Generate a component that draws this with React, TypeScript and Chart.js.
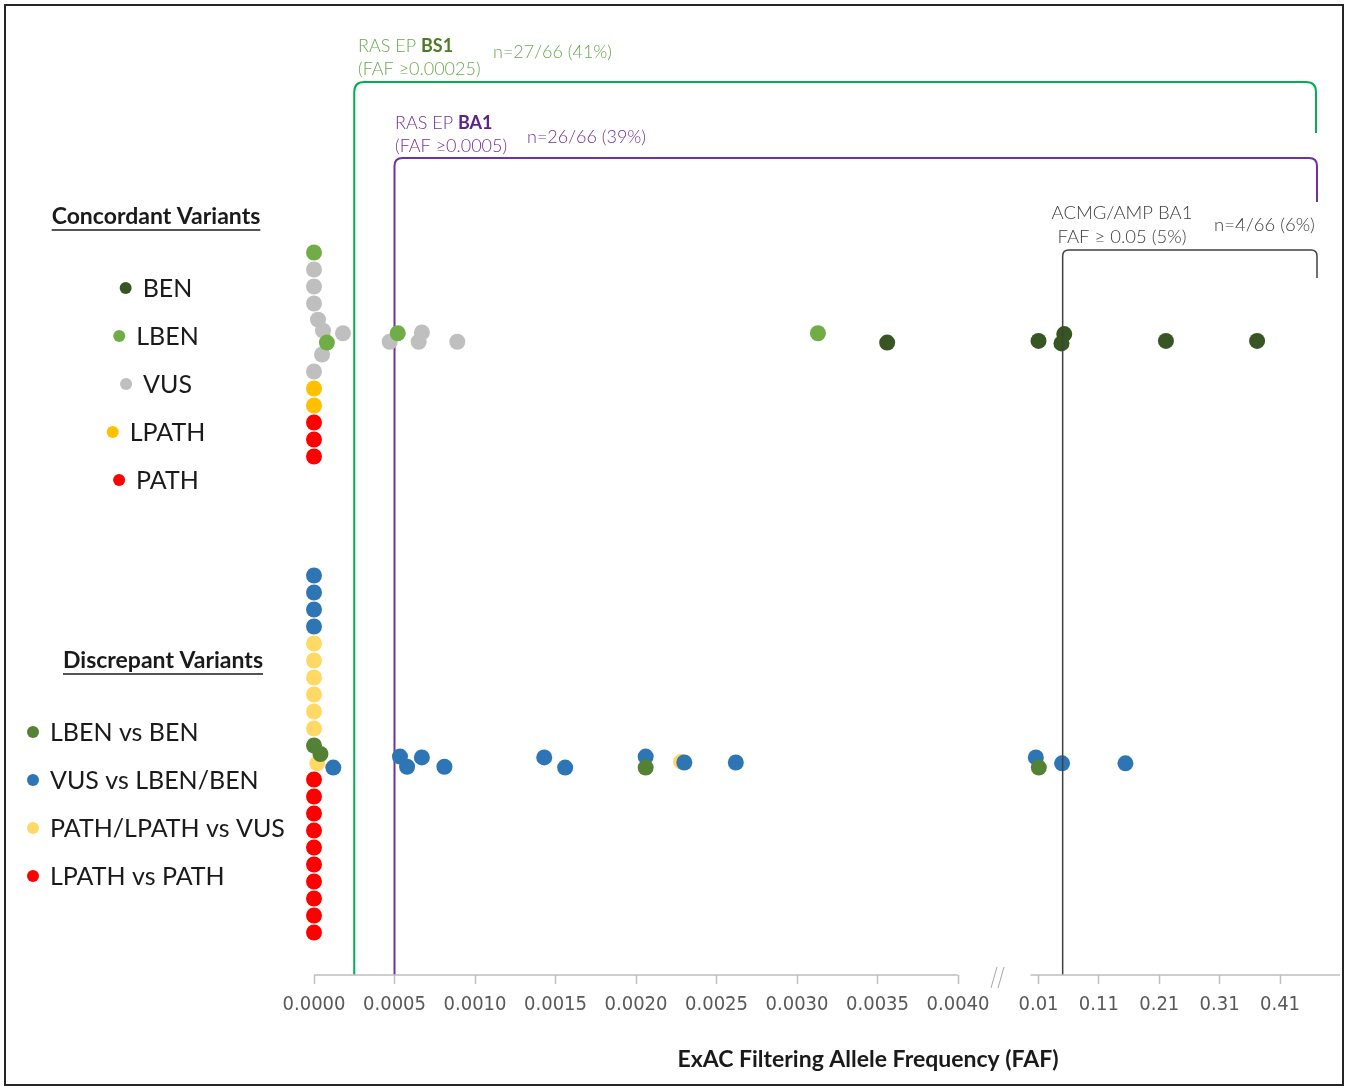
import React, { useEffect, useRef } from "react";
import { Chart, registerables } from "chart.js";

Chart.register(...registerables);

// ---------- tick labels (broken axis) ----------
const TICK_VALUES = [0, 0.0005, 0.001, 0.0015, 0.002, 0.0025, 0.003, 0.0035, 0.004, 0.01, 0.11, 0.21, 0.31, 0.41];
const TICK_LABELS = ["0.0000", "0.0005", "0.0010", "0.0015", "0.0020", "0.0025", "0.0030", "0.0035", "0.0040", "0.01", "0.11", "0.21", "0.31", "0.41"];

// ---------- thresholds ----------
const BS1_FAF = 0.00025;
const BA1_FAF = 0.0005;
const ACMG_FAF = 0.05;

// ---------- data: FAF values and swarm offsets (dot steps, + = below lane centre) ----------
// Concordant variants
const CONC_BEN_FAF = [0.00356, 0.01, 0.0526, 0.048, 0.221, 0.372];
const CONC_BEN_OFF = [0.3, 0.2, -0.2, 0.35, 0.2, 0.2];
const CONC_LBEN_FAF = [0, 0.00008, 0.00052, 0.00313];
const CONC_LBEN_OFF = [-5, 0.3, -0.25, -0.25];
const CONC_VUS_FAF = [0, 0, 0, 0.000025, 0.000056, 0.00018, 0.00005, 0, 0.00047, 0.00067, 0.00065, 0.00089];
const CONC_VUS_OFF = [-4, -3, -2, -1.05, -0.4, -0.25, 1, 2, 0.25, -0.3, 0.25, 0.25];
const CONC_LPATH_FAF = [0, 0];
const CONC_LPATH_OFF = [3, 4];
const CONC_PATH_FAF = [0, 0, 0];
const CONC_PATH_OFF = [5, 6, 7];

// Discrepant variants
const DISC_LBEN_BEN_FAF = [0, 0.00004, 0.00206, 0.0105];
const DISC_LBEN_BEN_OFF = [-1, -0.5, 0.3, 0.3];
const DISC_VUS_FAF = [0, 0, 0, 0, 0.00012, 0.000534, 0.000578, 0.00067, 0.00081, 0.00143, 0.00156, 0.00206, 0.0023, 0.00262, 0.0098, 0.049, 0.154];
const DISC_VUS_OFF = [-11, -10, -9, -8, 0.3, -0.35, 0.25, -0.3, 0.25, -0.3, 0.3, -0.35, 0, 0, -0.3, 0.05, 0.05];
const DISC_PLP_VUS_FAF = [0, 0, 0, 0, 0, 0, 0.00002, 0.00228];
const DISC_PLP_VUS_OFF = [-7, -6, -5, -4, -3, -2, 0.05, -0.05];
const DISC_LP_P_FAF = [0, 0, 0, 0, 0, 0, 0, 0, 0, 0];
const DISC_LP_P_OFF = [1, 2, 3, 4, 5, 6, 7, 8, 9, 10];

const LANE_CONC = 37.5;
const LANE_DISC = 12.5;

// ---------- colours ----------
const C_BEN = "#375623";
const C_LBEN = "#70AD47";
const C_VUS = "#BFBFBF";
const C_LPATH = "#FFC000";
const C_PATH = "#FF0000";
const C_D_LBEN = "#548235";
const C_D_VUS = "#2E75B6";
const C_D_PLP = "#FFD966";
const C_D_LPP = "#FF0000";

// broken axis transform: FAF -> axis position
function toPos(v: number): number {
  if (v <= 0.004) return v / 0.0005;
  if (v < 0.01) return 8 + (v - 0.004) / 0.006;
  return 9 + ((v - 0.01) / 0.1) * 0.75;
}

function pts(fafs: number[], offs: number[], lane: number) {
  return fafs.map((f, i) => ({ x: toPos(f), y: lane - offs[i] }));
}

const FONT_UI = "Lato, 'Open Sans', sans-serif";

const overlayPlugin = {
  id: "overlay",
  beforeDatasetsDraw(chart: any) {
    const ctx = chart.ctx;
    const xs = chart.scales.x;
    const bottom = chart.chartArea.bottom;
    const bracket = (xL: number, yTop: number, xR: number, yEnd: number, r: number, color: string, w: number) => {
      ctx.save();
      ctx.strokeStyle = color;
      ctx.lineWidth = w;
      ctx.beginPath();
      ctx.moveTo(xL, bottom);
      ctx.lineTo(xL, yTop + r);
      ctx.quadraticCurveTo(xL, yTop, xL + r, yTop);
      ctx.lineTo(xR - r, yTop);
      ctx.quadraticCurveTo(xR, yTop, xR, yTop + r);
      ctx.lineTo(xR, yEnd);
      ctx.stroke();
      ctx.restore();
    };
    bracket(xs.getPixelForValue(toPos(BS1_FAF)), 82, 1316, 133, 10, "#00B050", 2);
    bracket(xs.getPixelForValue(toPos(BA1_FAF)), 158, 1317, 202, 8, "#7030A0", 2);
  },
  afterDatasetsDraw(chart: any) {
    const ctx = chart.ctx;
    const xs = chart.scales.x;
    const bottom = chart.chartArea.bottom;
    const right = chart.chartArea.right;
    // ACMG bracket on top of dots
    const xA = xs.getPixelForValue(toPos(ACMG_FAF));
    ctx.save();
    ctx.strokeStyle = "#404040";
    ctx.lineWidth = 1.5;
    ctx.beginPath();
    const r = 6, yTop = 250, xR = 1317;
    ctx.moveTo(xA, bottom);
    ctx.lineTo(xA, yTop + r);
    ctx.quadraticCurveTo(xA, yTop, xA + r, yTop);
    ctx.lineTo(xR - r, yTop);
    ctx.quadraticCurveTo(xR, yTop, xR, yTop + r);
    ctx.lineTo(xR, 278);
    ctx.stroke();
    ctx.restore();

    // axis line with break
    ctx.save();
    ctx.strokeStyle = "#BFBFBF";
    ctx.lineWidth = 1.5;
    ctx.beginPath();
    ctx.moveTo(xs.getPixelForValue(0), bottom);
    ctx.lineTo(xs.getPixelForValue(toPos(0.004)), bottom);
    ctx.moveTo(xs.getPixelForValue(toPos(0.01)) - 8, bottom);
    ctx.lineTo(right, bottom);
    ctx.stroke();
    ctx.strokeStyle = "#A6A6A6";
    ctx.lineWidth = 1;
    ctx.beginPath();
    ctx.moveTo(991, bottom + 13);
    ctx.lineTo(997, bottom - 8);
    ctx.moveTo(998, bottom + 13);
    ctx.lineTo(1004, bottom - 8);
    ctx.stroke();
    ctx.restore();
  },
  afterDraw(chart: any) {
    const ctx = chart.ctx;
    ctx.save();
    ctx.textBaseline = "middle";

    // frame
    ctx.strokeStyle = "#262626";
    ctx.lineWidth = 2;
    ctx.strokeRect(5, 5, 1338, 1080);

    const annFont = `300 18px ${FONT_UI}`;
    // annotation texts
    const mixed = (x: number, y: number, a: string, b: string, colA: string, colB: string) => {
      ctx.textAlign = "left";
      ctx.font = annFont;
      ctx.fillStyle = colA;
      ctx.fillText(a, x, y);
      const w = ctx.measureText(a).width;
      ctx.font = `bold 18px ${FONT_UI}`;
      ctx.fillStyle = colB;
      ctx.fillText(b, x + w, y);
    };
    const txt = (s: string, x: number, y: number, col: string, align: CanvasTextAlign = "left", font = annFont) => {
      ctx.textAlign = align;
      ctx.font = font;
      ctx.fillStyle = col;
      ctx.fillText(s, x, y);
    };
    mixed(358, 46, "RAS EP ", "BS1", "#6AA84F", "#4E7A28");
    txt("(FAF \u22650.00025)", 358, 69, "#6AA84F");
    txt("n=27/66 (41%)", 493, 52, "#6AA84F");
    mixed(395, 123, "RAS EP ", "BA1", "#7030A0", "#5B2386");
    txt("(FAF \u22650.0005)", 395, 146, "#7030A0");
    txt("n=26/66 (39%)", 527, 137, "#7030A0");
    txt("ACMG/AMP BA1", 1122, 213, "#404040", "center", `300 18.5px ${FONT_UI}`);
    txt("FAF \u2265 0.05 (5%)", 1122, 237, "#404040", "center", `300 18.5px ${FONT_UI}`);
    txt("n=4/66 (6%)", 1214, 225, "#404040", "left", `300 18.5px ${FONT_UI}`);

    // axis title
    txt("ExAC Filtering Allele Frequency (FAF)", 868, 1060, "#1A1A1A", "center", `bold 23px ${FONT_UI}`);

    // legend headers
    const header = (s: string, cx: number, y: number) => {
      ctx.font = `bold 23px ${FONT_UI}`;
      ctx.textAlign = "center";
      ctx.fillStyle = "#1A1A1A";
      ctx.fillText(s, cx, y);
      const w = ctx.measureText(s).width;
      ctx.strokeStyle = "#1A1A1A";
      ctx.lineWidth = 1.5;
      ctx.beginPath();
      ctx.moveTo(cx - w / 2, y + 13);
      ctx.lineTo(cx + w / 2, y + 13);
      ctx.stroke();
    };
    header("Concordant Variants", 156, 217);
    header("Discrepant Variants", 163, 661);

    const itemFont = `25px ${FONT_UI}`;
    const concItems: [string, string, number][] = [
      ["BEN", C_BEN, 289],
      ["LBEN", C_LBEN, 337],
      ["VUS", C_VUS, 385],
      ["LPATH", C_LPATH, 433],
      ["PATH", C_PATH, 481],
    ];
    concItems.forEach(([label, col, y]) => {
      ctx.font = itemFont;
      const tw = ctx.measureText(label).width;
      const total = 12 + 11 + tw;
      const left = 156 - total / 2;
      ctx.fillStyle = col;
      ctx.beginPath();
      ctx.arc(left + 6, y - 1, 6, 0, Math.PI * 2);
      ctx.fill();
      ctx.fillStyle = "#1A1A1A";
      ctx.textAlign = "left";
      ctx.fillText(label, left + 23, y);
    });
    const discItems: [string, string, number][] = [
      ["LBEN vs BEN", C_D_LBEN, 733],
      ["VUS vs LBEN/BEN", C_D_VUS, 781],
      ["PATH/LPATH vs VUS", C_D_PLP, 829],
      ["LPATH vs PATH", C_D_LPP, 877],
    ];
    discItems.forEach(([label, col, y]) => {
      ctx.fillStyle = col;
      ctx.beginPath();
      ctx.arc(33, y - 1, 6, 0, Math.PI * 2);
      ctx.fill();
      ctx.font = itemFont;
      ctx.fillStyle = "#1A1A1A";
      ctx.textAlign = "left";
      ctx.fillText(label, 50, y);
    });
    ctx.restore();
  },
};

export default function App() {
  const ref = useRef<HTMLCanvasElement>(null);
  useEffect(() => {
    if (!ref.current) return;
    const ds = (label: string, data: any[], color: string) => ({
      label,
      data,
      backgroundColor: color,
      borderWidth: 0,
      pointRadius: 8,
      pointHoverRadius: 8,
      clip: false as any,
    });
    const chart = new Chart(ref.current, {
      type: "scatter",
      data: {
        datasets: [
          ds("BEN", pts(CONC_BEN_FAF, CONC_BEN_OFF, LANE_CONC), C_BEN),
          ds("LBEN", pts(CONC_LBEN_FAF, CONC_LBEN_OFF, LANE_CONC), C_LBEN),
          ds("VUS", pts(CONC_VUS_FAF, CONC_VUS_OFF, LANE_CONC), C_VUS),
          ds("LPATH", pts(CONC_LPATH_FAF, CONC_LPATH_OFF, LANE_CONC), C_LPATH),
          ds("PATH", pts(CONC_PATH_FAF, CONC_PATH_OFF, LANE_CONC), C_PATH),
          ds("LBEN vs BEN", pts(DISC_LBEN_BEN_FAF, DISC_LBEN_BEN_OFF, LANE_DISC), C_D_LBEN),
          ds("VUS vs LBEN/BEN", pts(DISC_VUS_FAF, DISC_VUS_OFF, LANE_DISC), C_D_VUS),
          ds("PATH/LPATH vs VUS", pts(DISC_PLP_VUS_FAF, DISC_PLP_VUS_OFF, LANE_DISC), C_D_PLP),
          ds("LPATH vs PATH", pts(DISC_LP_P_FAF, DISC_LP_P_OFF, LANE_DISC), C_D_LPP),
        ],
      },
      options: {
        responsive: false,
        animation: false,
        devicePixelRatio: 1,
        layout: { padding: { left: 314, right: 8, top: 40, bottom: 0 } },
        plugins: { legend: { display: false }, tooltip: { enabled: false } },
        events: [],
        scales: {
          x: {
            type: "linear",
            min: 0,
            max: 12.745,
            afterBuildTicks: (s: any) => {
              s.ticks = TICK_VALUES.map((v) => ({ value: toPos(v) }));
            },
            afterFit: (s: any) => {
              s.height = 113;
            },
            ticks: {
              autoSkip: false,
              maxRotation: 0,
              minRotation: 0,
              padding: 9,
              color: "#595959",
              font: { family: "'DejaVu Sans Condensed', 'DejaVu Sans', sans-serif", size: 20 },
              callback: (_v: any, i: number) => TICK_LABELS[i],
            },
            grid: { display: true, drawOnChartArea: false, drawTicks: true, tickLength: 9, tickColor: "#BFBFBF", tickWidth: 1.5 },
            border: { display: false },
          },
          y: { type: "linear", display: false, min: 0, max: 55 },
        },
      },
      plugins: [overlayPlugin],
    } as any);
    return () => chart.destroy();
  }, []);
  return (
    <div style={{ position: "absolute", left: 0, top: 0, width: 1348, height: 1088, background: "#fff" }}>
      <canvas ref={ref} width={1348} height={1088} style={{ display: "block" }} />
    </div>
  );
}
